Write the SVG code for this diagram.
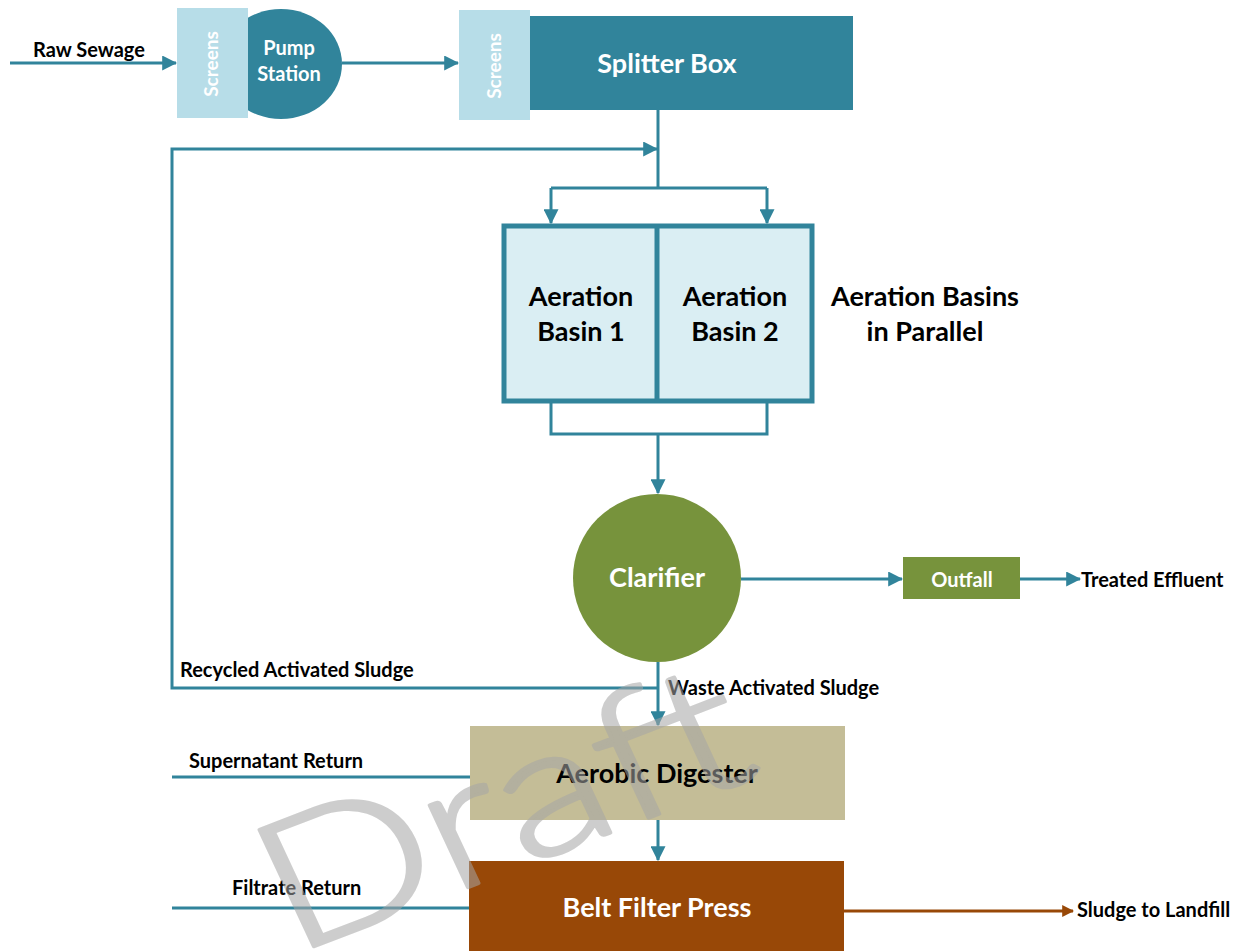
<svg xmlns="http://www.w3.org/2000/svg" width="1246" height="951" viewBox="0 0 1246 951">
  <style>
    .lbl { font-family: Lato, "Open Sans", "Liberation Sans", sans-serif; font-weight: bold; }
    .sm { font-size: 20px; }
    .lg { font-size: 27px; }
    .flow { stroke: #31849b; stroke-width: 3; fill: none; }
    .brown { stroke: #984807; stroke-width: 3; fill: none; }
    .w { fill: #ffffff; }
    .k { fill: #000000; }
  </style>
  <defs>
    <marker id="arr" markerWidth="5" markerHeight="5" refX="4.6" refY="2.5" orient="auto" markerUnits="strokeWidth">
      <path d="M0,0 L5,2.5 L0,5 Z" fill="#31849b"/>
    </marker>
    <marker id="arrB" markerWidth="4" markerHeight="4" refX="3.6" refY="2" orient="auto" markerUnits="strokeWidth">
      <path d="M0,0 L4,2 L0,4 Z" fill="#984807"/>
    </marker>
  </defs>

  <rect width="1246" height="951" fill="#ffffff"/>

  <!-- flow lines between process units -->
  <g id="connectors">
    <path class="flow" d="M10,63 H176" marker-end="url(#arr)"/>
    <path class="flow" d="M342,63 H458" marker-end="url(#arr)"/>
    <path class="flow" d="M658,110 V188"/>
    <path class="flow" d="M551,188 H767"/>
    <path class="flow" d="M551,188 V223" marker-end="url(#arr)"/>
    <path class="flow" d="M767,188 V223" marker-end="url(#arr)"/>
    <path class="flow" d="M551,402 V434 H767 V402"/>
    <path class="flow" d="M658,434 V493" marker-end="url(#arr)"/>
    <path class="flow" d="M741,579 H902" marker-end="url(#arr)"/>
    <path class="flow" d="M1020,579 H1080" marker-end="url(#arr)"/>
    <path class="flow" d="M658,662 V725" marker-end="url(#arr)"/>
    <path class="flow" d="M658,688 H172 V149 H657" marker-end="url(#arr)"/>
    <path class="flow" d="M172,777 H470"/>
    <path class="flow" d="M172,908 H470"/>
    <path class="flow" d="M658,820 V860" marker-end="url(#arr)"/>
    <path class="brown" d="M844,911 H1073" marker-end="url(#arrB)"/>
  </g>

  <g id="raw-sewage">
    <text class="lbl sm k" x="33" y="57">Raw Sewage</text>
  </g>

  <g id="pump-station">
    <ellipse cx="281" cy="64" rx="61" ry="55" fill="#31849b"/>
    <text class="lbl sm w" x="289" y="55" text-anchor="middle">Pump</text>
    <text class="lbl sm w" x="289" y="81" text-anchor="middle">Station</text>
  </g>

  <g id="screens-1">
    <rect x="177" y="8" width="71" height="110" fill="#b7dde8"/>
    <text class="lbl w" transform="translate(218,64) rotate(-90)" font-size="19" text-anchor="middle">Screens</text>
  </g>

  <g id="screens-2">
    <rect x="459" y="10" width="71" height="110" fill="#b7dde8"/>
    <text class="lbl w" transform="translate(501,66) rotate(-90)" font-size="19" text-anchor="middle">Screens</text>
  </g>

  <g id="splitter-box">
    <rect x="530" y="16" width="323" height="94" fill="#31849b"/>
    <text class="lbl lg w" x="667" y="73" text-anchor="middle">Splitter Box</text>
  </g>

  <g id="aeration-basins">
    <rect x="504" y="226" width="308" height="175" fill="#daeef3" stroke="#31849b" stroke-width="5"/>
    <line x1="657" y1="224" x2="657" y2="403" stroke="#31849b" stroke-width="5"/>
    <text class="lbl lg k" x="581" y="306" text-anchor="middle">Aeration</text>
    <text class="lbl lg k" x="581" y="341" text-anchor="middle">Basin 1</text>
    <text class="lbl lg k" x="735" y="306" text-anchor="middle">Aeration</text>
    <text class="lbl lg k" x="735" y="341" text-anchor="middle">Basin 2</text>
    <text class="lbl lg k" x="925" y="306" text-anchor="middle">Aeration Basins</text>
    <text class="lbl lg k" x="925" y="341" text-anchor="middle">in Parallel</text>
  </g>

  <g id="clarifier">
    <circle cx="657" cy="578" r="84" fill="#77933c"/>
    <text class="lbl lg w" x="657" y="587" text-anchor="middle">Clarifier</text>
  </g>

  <g id="outfall">
    <rect x="903" y="557" width="117" height="42" fill="#77933c"/>
    <text class="lbl sm w" x="962" y="587" text-anchor="middle">Outfall</text>
    <text class="lbl sm k" x="1081" y="587">Treated Effluent</text>
  </g>

  <g id="sludge-labels">
    <text class="lbl sm k" x="180" y="677">Recycled Activated Sludge</text>
    <text class="lbl sm k" x="668" y="695">Waste Activated Sludge</text>
    <text class="lbl sm k" x="189" y="768">Supernatant Return</text>
    <text class="lbl sm k" x="232" y="895">Filtrate Return</text>
  </g>

  <g id="aerobic-digester">
    <rect x="470" y="726" width="375" height="94" fill="#c4bd97"/>
    <text class="lbl lg k" x="657" y="783" text-anchor="middle">Aerobic Digester</text>
  </g>

  <g id="belt-filter-press">
    <rect x="469" y="861" width="375" height="90" fill="#984807"/>
    <text class="lbl lg w" x="657" y="917" text-anchor="middle">Belt Filter Press</text>
    <text class="lbl sm k" x="1077" y="917">Sludge to Landfill</text>
  </g>

  <!-- watermark -->
  <text transform="translate(292,955) rotate(-21) skewX(4) scale(1.25,1)" font-family="Lato, 'Open Sans', sans-serif" font-weight="300" font-size="182" fill="#a6a6a6" stroke="#a6a6a6" stroke-width="3.5" stroke-linejoin="round" opacity="0.55">Draft</text>
</svg>
